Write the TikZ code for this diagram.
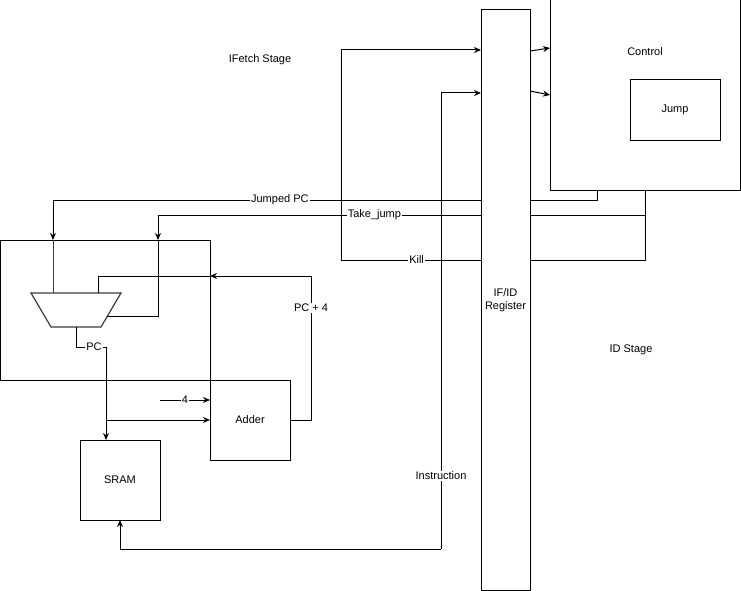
\documentclass[tikz,border=0pt]{standalone}
\usepackage{fontspec}
\setmainfont{Liberation Sans}
\usetikzlibrary{arrows.meta,positioning}
\definecolor{muxgray}{RGB}{60,60,60}

\begin{document}
\begin{tikzpicture}[x=1pt, y=-1pt,
  font=\fontsize{11}{13}\selectfont,
  blk/.style={rectangle, draw, line width=1pt, inner sep=0pt, outer sep=0pt, align=center},
  wire/.style={line width=1pt},
  arr/.style={wire, -{Stealth[length=7pt,width=6pt]}},
  lbl/.style={fill=white, inner sep=1pt},
]
\useasboundingbox (0,0) rectangle (741,591);

% Blocks
\node[blk, minimum width=210pt, minimum height=140pt] (ifbox) at (105,310) {};
\node[blk, minimum width=49pt,  minimum height=580pt] (reg)   at (505.5,300) {IF/ID\\Register};
\node[blk, minimum width=190pt, minimum height=190pt] (ctrl)  at (645,95) {};
\node (ctrltxt) at (645,52) {Control};
\node[blk, minimum width=90pt,  minimum height=60pt]  (jump)  at (675,110) {Jump};
\node[blk, minimum width=80pt,  minimum height=80pt, fill=white] (adder) at (250,420) {Adder};
\node[blk, minimum width=80pt,  minimum height=80pt]  (sram)  at (120,480) {SRAM};

% Mux
\draw[muxgray, line width=1.2pt] (31,293) coordinate (muxtl) -- (121,293) coordinate (muxtr)
  -- (101,327) -- (51,327) -- cycle;
\coordinate (muxout) at (76,327);

% Stage labels
\node (ifstage) at (260,60)  {IFetch Stage};
\node (idstage) at (631,350) {ID Stage};

% Register -> Control
\draw[arr] (reg.east |- 0,51) -- (ctrl.west |- 0,48);
\draw[arr] (reg.east |- 0,91) -- (ctrl.west |- 0,95);

% Kill / Take_jump / Jumped PC from Control
\draw[wire] (ctrl.south -| 645,0) |- (reg.east |- 0,260);
\draw[wire] (645,215) -- (reg.east |- 0,215);
\draw[wire] (ctrl.south -| 597,0) |- (reg.east |- 0,200);

\draw[arr] (reg.west |- 0,260) -- node[lbl, pos=0.46]{Kill} (341,260) |- (reg.west |- 0,50);
\draw[arr] (reg.west |- 0,215) -- node[lbl, pos=0.33]{Take\_jump} (158,215) -- (ifbox.north -| 158,0);
\draw[wire] (ifbox.north -| 158,0) |- (107,316);
\draw[arr] (reg.west |- 0,200) -- node[lbl, pos=0.47]{Jumped PC} (53,200) -- (ifbox.north -| 53,0);
\draw[wire, muxgray] (ifbox.north -| 53,0) -- (53,293);

% PC + 4 loop
\draw[arr] (adder.east) -| node[lbl, pos=0.89]{PC + 4} (311,276) -- (ifbox.east |- 0,276);
\draw[wire] (ifbox.east |- 0,276) -| (98,293);

% PC
\draw[wire] (muxout) |- node[lbl, pos=0.8]{PC} (106,347);
\draw[arr] (106,347) -- (sram.north -| 106,0);
\draw[arr] (106,420) -- (adder.west);
\draw[arr] (160,400) -- node[lbl]{4} (adder.west |- 0,400);

% Instruction
\draw[arr] (441,549) -| (sram.south);
\draw[arr] (441,549) -- node[lbl, pos=0.16]{Instruction} (441,93) -- (reg.west |- 0,93);

\end{tikzpicture}
\end{document}
